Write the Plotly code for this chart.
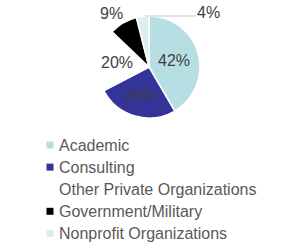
import plotly.graph_objects as go

categories = ["Academic", "Consulting", "Other Private Organizations",
              "Government/Military", "Nonprofit Organizations"]
values = [42, 26, 20, 9, 4]
colors = ["#B7DFE3", "#333399", "#FFFFFF", "#000000", "#DAEEF0"]
# slices whose labels sit inside the pie; the small ones are labelled outside
inside_label = [True, True, True, False, False]

FONT = "Liberation Sans, Arial, sans-serif"
W, H = 300, 248

labels_txt = [f"{v}%" for v in values]

fig = go.Figure()
fig.add_trace(go.Pie(
    labels=categories,
    values=values,
    text=[t if ins else "" for t, ins in zip(labels_txt, inside_label)],
    textinfo="text",
    textposition=["inside" if ins else "none" for ins in inside_label],
    insidetextorientation="horizontal",
    sort=False,
    direction="clockwise",
    rotation=0,
    marker=dict(colors=colors, line=dict(color="#FFFFFF", width=1.5)),
    textfont=dict(family=FONT, size=16, color="#404040"),
    domain=dict(x=[98 / W, 200 / W], y=[1 - 118 / H, 1 - 16 / H]),
    showlegend=False,
    hoverinfo="label+percent",
))

# outside labels for the two small slices
outside_pos = {3: (111.5, 14), 4: (208, 12.5)}
annotations = []
for i, (px, py) in outside_pos.items():
    annotations.append(dict(
        x=px / W, y=1 - py / H, xref="paper", yref="paper",
        text=labels_txt[i], showarrow=False,
        xanchor="center", yanchor="middle",
        font=dict(family=FONT, size=16, color="#404040"),
    ))

shapes = [dict(type="line", xref="paper", yref="paper",
               x0=145 / W, x1=196 / W, y0=1 - 16 / H, y1=1 - 16 / H,
               line=dict(color="#C8C8C8", width=1))]

# legend (vertical list under the pie)
leg_y0, leg_dy = 145, 22.1
for i, (cat, col) in enumerate(zip(categories, colors)):
    cy = leg_y0 + i * leg_dy
    annotations.append(dict(
        x=57 / W, y=1 - cy / H, xref="paper", yref="paper",
        text=cat, showarrow=False, xanchor="left", yanchor="middle",
        font=dict(family=FONT, size=16, color="#595959"),
    ))
    shapes.append(dict(
        type="rect", xref="paper", yref="paper",
        x0=46.5 / W, x1=53.5 / W, y0=1 - (cy + 3.5) / H, y1=1 - (cy - 3.5) / H,
        fillcolor=col, line=dict(width=0),
    ))

fig.update_layout(
    width=W, height=H,
    margin=dict(l=0, r=0, t=0, b=0),
    paper_bgcolor="#FFFFFF",
    plot_bgcolor="#FFFFFF",
    annotations=annotations,
    shapes=shapes,
)

fig.write_html("out.html")
